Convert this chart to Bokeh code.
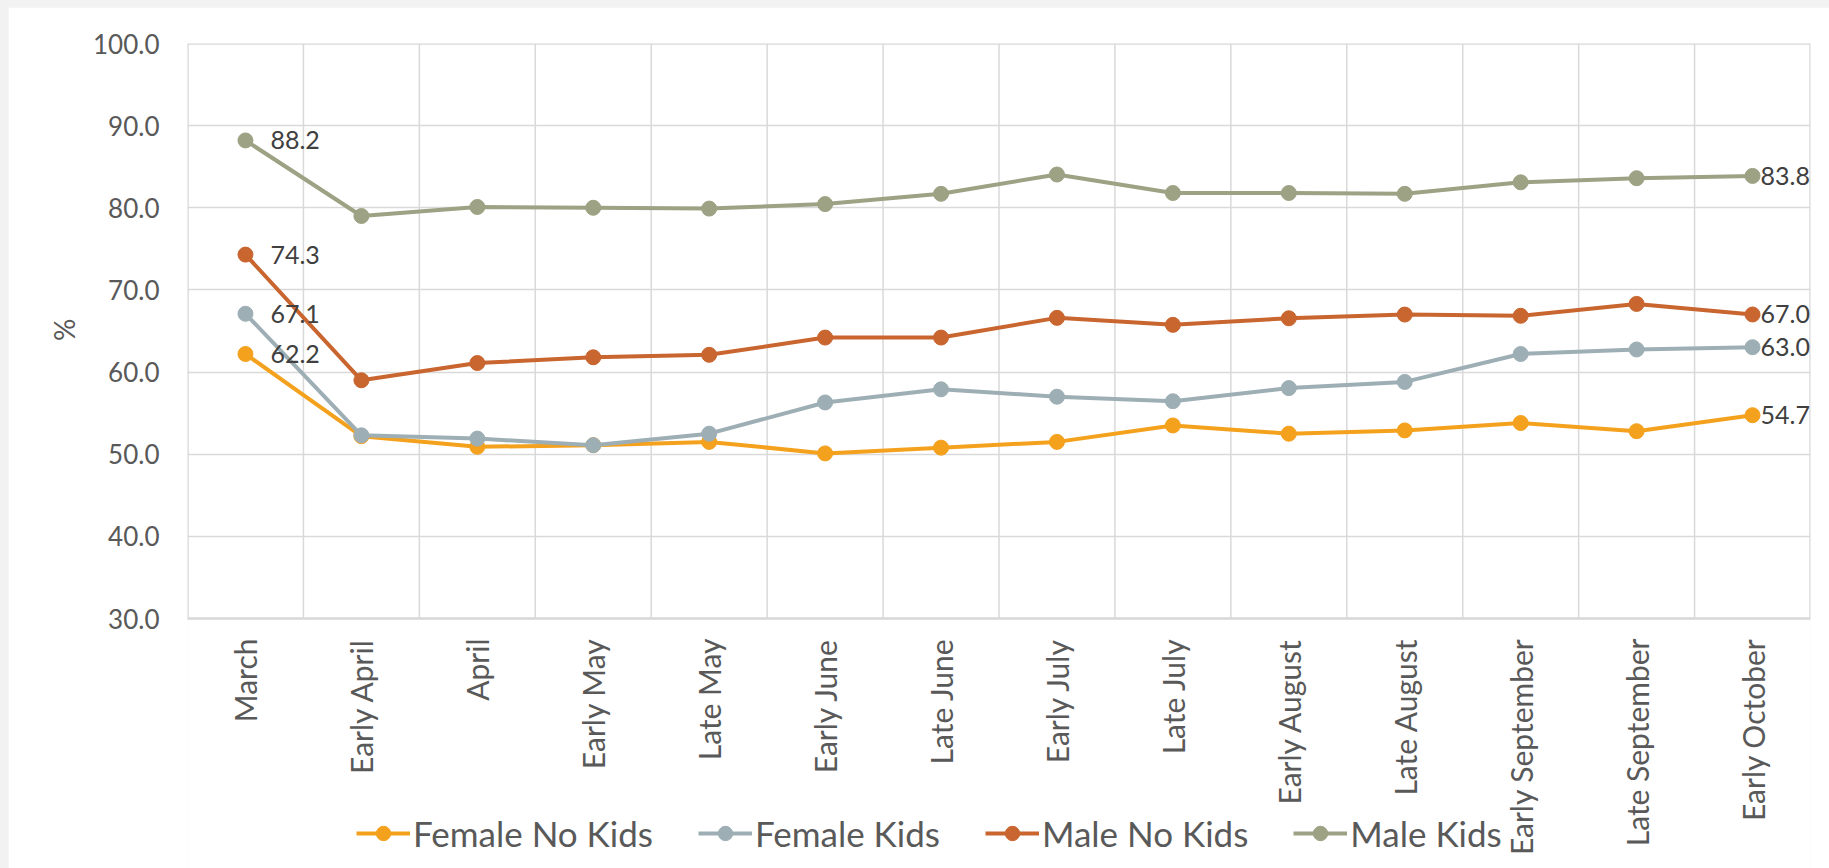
import math
from bokeh.plotting import figure
from bokeh.models import (ColumnDataSource, FixedTicker, Legend, LegendItem,
                          LabelSet, Range1d, NumeralTickFormatter, Spacer, Title)
from bokeh.core.properties import value
from bokeh.layouts import row, column
from bokeh.embed import file_html
from bokeh.resources import INLINE

# Survey periods (x categories)
periods = ["March", "Early April", "April", "Early May", "Late May", "Early June",
           "Late June", "Early July", "Late July", "Early August", "Late August",
           "Early September", "Late September", "Early October"]

# Share (%) per group and period
female_no_kids = [62.2, 52.2, 50.9, 51.1, 51.5, 50.1, 50.8, 51.5, 53.5, 52.5, 52.9, 53.8, 52.8, 54.75]
female_kids = [67.1, 52.3, 51.9, 51.1, 52.5, 56.3, 57.9, 57.0, 56.45, 58.05, 58.8, 62.2, 62.75, 63.03]
male_no_kids = [74.3, 59.0, 61.1, 61.8, 62.1, 64.2, 64.2, 66.6, 65.75, 66.55, 67.0, 66.85, 68.3, 67.01]
male_kids = [88.2, 79.0, 80.1, 80.0, 79.9, 80.45, 81.7, 84.05, 81.8, 81.8, 81.7, 83.1, 83.6, 83.88]

series_names = ["Female No Kids", "Female Kids", "Male No Kids", "Male Kids"]
series_values = [female_no_kids, female_kids, male_no_kids, male_kids]
series_colors = ["#F4A11E", "#9DAFB5", "#C9652F", "#9CA283"]

y_ticks = [30, 40, 50, 60, 70, 80, 90, 100]
y_min, y_max = 30, 100
y_title = "%"

FONT = "Lato"
TEXT = "#595959"
GRID = "#d9d9d9"

# The frame reaches down to the canvas bottom so the legend can sit among
# the rotated period labels; the value area (30-100) occupies the top 575 px.
VALUE_PX = 575
BELOW_PX = 250
y_low = y_min - BELOW_PX * (y_max - y_min) / VALUE_PX

xs = list(range(len(periods)))

p = figure(width=1821, height=861,
           x_range=Range1d(-0.5, len(periods) - 0.5), y_range=Range1d(y_low, y_max),
           output_backend="svg", toolbar_location=None, x_axis_location=None,
           min_border_left=179, min_border_right=19,
           min_border_top=36, min_border_bottom=0)

p.background_fill_color = "white"
p.border_fill_color = "white"
p.outline_line_color = None

# y axis
p.yaxis.ticker = FixedTicker(ticks=y_ticks)
p.yaxis.formatter = NumeralTickFormatter(format="0.0")
p.yaxis.major_label_text_font = FONT
p.yaxis.major_label_text_font_size = "26px"
p.yaxis.major_label_text_color = TEXT
p.yaxis.major_label_standoff = 28
p.yaxis.axis_line_color = None
p.yaxis.major_tick_line_color = None
p.yaxis.minor_tick_line_color = None
p.yaxis.major_tick_out = 0
p.yaxis.major_tick_in = 0

# y axis title, placed level with the middle of the value area
p.add_layout(Title(text=y_title, align="right", offset=275, standoff=20,
                   text_font=FONT, text_font_size="28px",
                   text_font_style="normal", text_color=TEXT), "left")

p.ygrid.ticker = FixedTicker(ticks=y_ticks)
p.ygrid.grid_line_color = GRID
p.ygrid.grid_line_width = 1.5
p.xgrid.visible = False

# vertical separators between periods and the box round the value area
bounds = [i + 0.5 for i in xs[:-1]]
p.segment(x0=bounds, x1=bounds, y0=[y_min] * len(bounds), y1=[y_max] * len(bounds),
          line_color=GRID, line_width=1.5)
p.quad(left=[xs[0] - 0.5], right=[xs[-1] + 0.5], bottom=[y_min], top=[y_max],
       fill_color=None, line_color=GRID, line_width=2.5)

items = []
for name, vals, color in zip(series_names, series_values, series_colors):
    src = ColumnDataSource(dict(x=xs, y=vals))
    ln = p.line("x", "y", source=src, line_color=color, line_width=4)
    sc = p.scatter("x", "y", source=src, size=15, fill_color=color, line_color=color)
    items.append(LegendItem(label=name, renderers=[ln, sc]))

# period labels, rotated, hanging below the value area
period_src = ColumnDataSource(dict(x=xs, y=[y_min] * len(xs), t=periods))
p.add_layout(LabelSet(x="x", y="y", text="t", source=period_src, y_offset=-20,
                      angle=math.pi / 2, text_align="right", text_baseline="middle",
                      text_font=value(FONT), text_font_size="30px", text_color=TEXT))

# value labels at the first and last period
first = ColumnDataSource(dict(
    x=[xs[0]] * len(series_values),
    y=[v[0] for v in series_values],
    t=[f"{v[0]:g}" for v in series_values]))
last = ColumnDataSource(dict(
    x=[xs[-1]] * len(series_values),
    y=[v[-1] for v in series_values],
    t=[f"{v[-1]:g}" for v in series_values]))

for src, off in ((first, 25), (last, 8)):
    p.add_layout(LabelSet(x="x", y="y", text="t", source=src, x_offset=off,
                          text_font=value(FONT), text_font_size="25px",
                          text_color="#404040", text_baseline="middle",
                          text_align="left"))

legend = Legend(items=items, orientation="horizontal", location=(169, 14),
                label_text_font=FONT, label_text_font_size="35px",
                label_text_color=TEXT, glyph_width=54, glyph_height=36,
                label_standoff=3, spacing=45, padding=0, margin=0,
                border_line_color=None, background_fill_alpha=0)
p.add_layout(legend, "center")

page = row(Spacer(width=8, height=868),
           column(Spacer(width=1821, height=7), p),
           styles={"background-color": "#f2f2f2"})

open("out.html", "w").write(file_html(page, INLINE))
